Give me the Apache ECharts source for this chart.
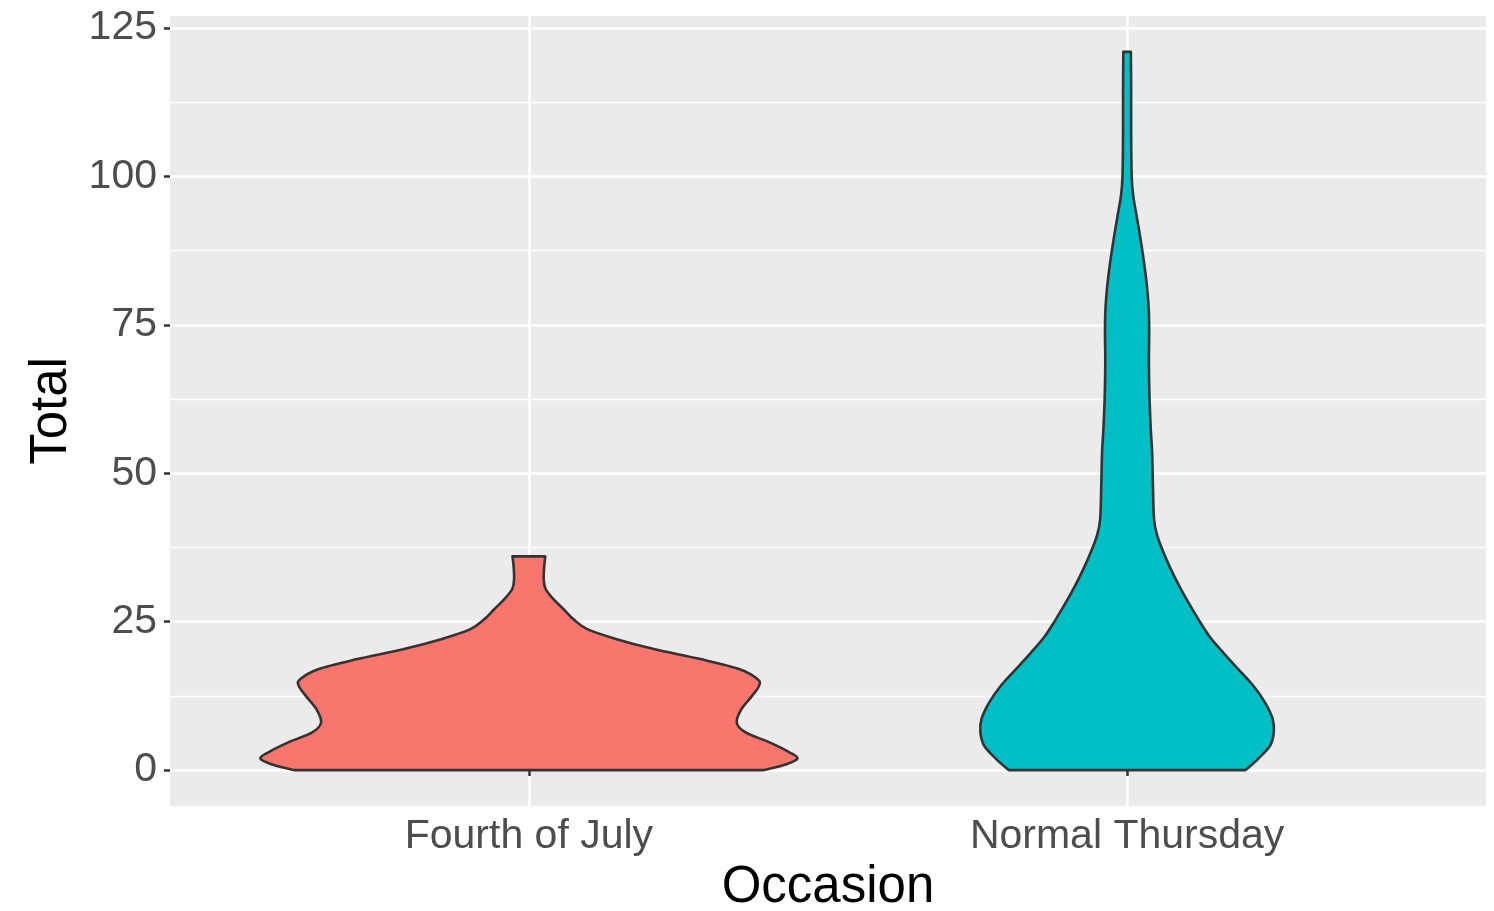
<!DOCTYPE html>
<html><head><meta charset="utf-8">
<script src="https://cdn.jsdelivr.net/npm/echarts@6/dist/echarts.min.js"></script>
<style>html,body{margin:0;padding:0;background:#fff}#c{width:1494px;height:911px}</style>
</head><body><div id="c"></div>
<script>
// ---- data ----
const categories = ['Fourth of July', 'Normal Thursday'];
const fillColors = ['#F8766D', '#00BFC4'];
const yTickValues = [0, 25, 50, 75, 100, 125];
const yMinorValues = [12.5, 37.5, 62.5, 87.5, 112.5];

// Violin outline: Total value and scaled density (1 = widest violin)
const julyTotal   = [0, 1.0, 1.97, 3.0, 4.67, 6.35, 8.0, 10.3, 12.5, 14.2, 15.3, 17.0, 18.7, 20.4, 22.1, 23.75, 25.4, 27.1, 28.8, 30.5, 32.2, 34.4, 36.0];
const julyDensity = [0.872, 0.957, 0.998, 0.968, 0.894, 0.805, 0.772, 0.790, 0.829, 0.855, 0.850, 0.783, 0.638, 0.464, 0.323, 0.217, 0.166, 0.129, 0.091, 0.062, 0.055, 0.057, 0.061];

const thursdayTotal   = [0, 1.85, 4.1, 6.35, 8.6, 11.4, 14.2, 17.0, 19.8, 22.6, 25.4, 28.3, 31.0, 33.9, 36.7, 39.5, 42.3, 47.9, 53.5, 57.4, 63.1, 68.7, 73.2, 77.1, 81.0, 85.5, 90.0, 94.0, 96.7, 100.1, 108, 115, 121];
const thursdayDensity = [0.440, 0.486, 0.531, 0.545, 0.541, 0.512, 0.469, 0.413, 0.357, 0.305, 0.265, 0.227, 0.194, 0.162, 0.135, 0.112, 0.100, 0.096, 0.093, 0.088, 0.083, 0.081, 0.082, 0.081, 0.075, 0.063, 0.048, 0.033, 0.023, 0.017, 0.015, 0.015, 0.014];

const violinTotals = [julyTotal, thursdayTotal];
const violinDensities = [julyDensity, thursdayDensity];
const VIOLIN_HALF = 0.45; // ggplot width 0.9 in category units

const FONT = 'Liberation Sans, Arial, Helvetica, sans-serif';

function smoothSeg(pts) {
  let d = '';
  for (let k = 0; k < pts.length - 1; k++) {
    const p0 = pts[Math.max(k - 1, 0)], p1 = pts[k], p2 = pts[k + 1], p3 = pts[Math.min(k + 2, pts.length - 1)];
    const c1 = [p1[0] + (p2[0] - p0[0]) / 6, p1[1] + (p2[1] - p0[1]) / 6];
    const c2 = [p2[0] - (p3[0] - p1[0]) / 6, p2[1] - (p3[1] - p1[1]) / 6];
    d += ' C' + c1[0].toFixed(2) + ',' + c1[1].toFixed(2) + ' ' + c2[0].toFixed(2) + ',' + c2[1].toFixed(2) + ' ' + p2[0].toFixed(2) + ',' + p2[1].toFixed(2);
  }
  return d;
}

function renderViolin(params, api) {
  const i = params.dataIndex;
  const cx = api.value(0);
  const ys = violinTotals[i], ds = violinDensities[i];
  const right = ys.map((y, k) => api.coord([cx + ds[k] * VIOLIN_HALF, y]));
  const left = ys.map((y, k) => api.coord([cx - ds[k] * VIOLIN_HALF, y])).reverse();
  let d = 'M' + left[left.length - 1][0] + ',' + left[left.length - 1][1];
  d += ' L' + right[0][0] + ',' + right[0][1];
  d += smoothSeg(right);
  d += ' L' + left[0][0] + ',' + left[0][1];
  d += smoothSeg(left);
  d += ' Z';
  return {
    type: 'path',
    shape: { pathData: d },
    style: { fill: fillColors[i], stroke: '#333333', lineWidth: 2.6, lineJoin: 'round' }
  };
}

const chart = echarts.init(document.getElementById('c'), null, { renderer: 'canvas' });
chart.setOption({
  animation: false,
  backgroundColor: '#ffffff',
  textStyle: { fontFamily: FONT },
  grid: { left: 170, right: 8, top: 16, bottom: 105, show: true, backgroundColor: '#EBEBEB', borderWidth: 0, containLabel: false, outerBoundsMode: 'none' },
  xAxis: {
    type: 'value', min: 0.4, max: 2.6,
    name: 'Occasion', nameLocation: 'middle', nameGap: 56,
    nameTextStyle: { fontSize: 51, color: '#000000', fontFamily: FONT },
    axisLine: { show: false },
    axisTick: { show: true, customValues: [1, 2], length: 6, lineStyle: { color: '#333333', width: 2.5 } },
    axisLabel: { customValues: [1, 2], formatter: v => categories[Math.round(v) - 1], fontSize: 41, color: '#4D4D4D', margin: 10, fontFamily: FONT },
    splitLine: { show: true, lineStyle: { color: '#ffffff', width: 2.5 } }
  },
  yAxis: [{
    type: 'value', min: -6.05, max: 127.05,
    name: 'Total', nameLocation: 'middle', nameGap: 90, nameRotate: 90,
    nameTextStyle: { fontSize: 51, color: '#000000', fontFamily: FONT },
    axisLine: { show: false },
    axisTick: { show: true, customValues: yTickValues, length: 6, lineStyle: { color: '#333333', width: 2.5 } },
    axisLabel: { customValues: yTickValues, fontSize: 41, color: '#4D4D4D', margin: 13, fontFamily: FONT },
    splitLine: { show: true, lineStyle: { color: '#ffffff', width: 2.5 } }
  }, {
    type: 'value', min: -6.05, max: 127.05, position: 'left',
    axisLine: { show: false },
    axisTick: { show: false, customValues: yMinorValues },
    axisLabel: { show: false, customValues: yMinorValues },
    splitLine: { show: true, lineStyle: { color: '#ffffff', width: 1.3 } }
  }],
  series: [{
    type: 'custom',
    xAxisIndex: 0, yAxisIndex: 0,
    renderItem: renderViolin,
    clip: false,
    encode: { x: 0, y: [1, 2] },
    data: categories.map((c, i) => [i + 1, 0, violinTotals[i][violinTotals[i].length - 1]])
  }]
});
</script>
</body></html>
